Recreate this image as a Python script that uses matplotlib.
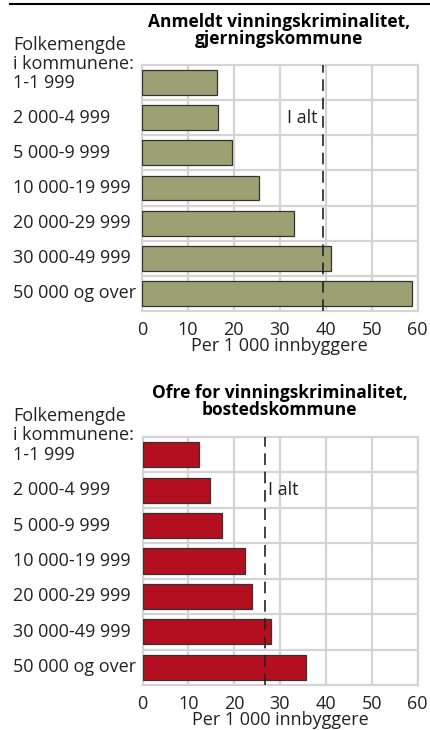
import matplotlib.pyplot as plt
from matplotlib.transforms import blended_transform_factory

plt.rcParams['font.family'] = ['Open Sans', 'DejaVu Sans']

categories = ["1-1 999", "2 000-4 999", "5 000-9 999", "10 000-19 999",
              "20 000-29 999", "30 000-49 999", "50 000 og over"]
anmeldt = [16.3, 16.5, 19.6, 25.4, 33.1, 41.2, 58.8]
anmeldt_total = 39.4
ofre = [12.4, 14.7, 17.3, 22.4, 23.8, 28.0, 35.6]
ofre_total = 26.7
xticks = [0, 10, 20, 30, 40, 50, 60]

fig = plt.figure(figsize=(4.3, 7.3), dpi=100)

# top rule
fig.add_artist(plt.Line2D([10 / 430, 1.0], [1 - 4 / 730] * 2, color='black', lw=1.5,
                          transform=fig.transFigure))


def panel(rect, values, total, color, title, title_y, head_y, label_side):
    ax = fig.add_axes(rect)
    y = list(range(len(categories)))
    ax.barh(y, values, height=0.71, color=color, edgecolor='#333333', linewidth=0.9, zorder=3)
    ax.set_xlim(0, 60)
    ax.set_ylim(len(categories) - 0.5, -0.5)
    ax.set_xticks(xticks)
    ax.set_xticklabels([str(t) for t in xticks], fontsize=13, color='#222222')
    ax.set_yticks([i + 0.5 for i in y[:-1]])
    ax.set_yticklabels([])
    ax.tick_params(length=0, pad=7)
    ax.grid(True, color='#d4d4d4', lw=1.6, zorder=0)
    for s in ax.spines.values():
        s.set_color('#d4d4d4')
        s.set_linewidth(1.6)
    ax.axvline(total, color='#222222', lw=1.2, ls=(0, (7, 4)), zorder=4)
    if label_side == 'left':
        ax.text(total - 1.2, 1, "I alt", ha='right', va='center', fontsize=13,
                color='#222222', zorder=5)
    else:
        ax.text(total + 0.6, 1, "I alt", ha='left', va='center', fontsize=13,
                color='#222222', zorder=5)
    ax.set_xlabel("Per 1 000 innbyggere", fontsize=13, labelpad=-1, color='#222222')
    tr = blended_transform_factory(fig.transFigure, ax.transData)
    for i, c in enumerate(categories):
        ax.text(13 / 430, i, c, transform=tr, ha='left', va='center', fontsize=13,
                color='#222222')
    fig.text(0.65, title_y, title, ha='center', va='top', fontsize=12.5, fontweight='bold',
             linespacing=0.95)
    fig.text(13 / 430, head_y, "Folkemengde\ni kommunene:", ha='left', va='top', fontsize=13,
             linespacing=1.05, color='#222222')
    return ax


panel([142 / 430, 1 - 311 / 730, 275.5 / 430, 246 / 730], anmeldt, anmeldt_total, '#9ba173',
      "Anmeldt vinningskriminalitet,\ngjerningskommune", 1 - 13 / 730, 1 - 36 / 730, 'left')
panel([142.5 / 430, 1 - 685 / 730, 275 / 430, 248 / 730], ofre, ofre_total, '#b30f1f',
      "Ofre for vinningskriminalitet,\nbostedskommune", 1 - 384 / 730, 1 - 407 / 730, 'right')

fig.savefig("out.png", dpi=100)
